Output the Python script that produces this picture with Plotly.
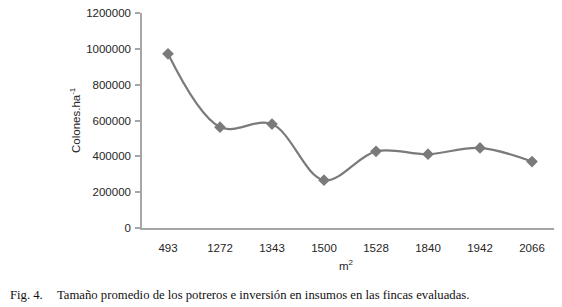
import plotly.graph_objects as go

categories = ["493", "1272", "1343", "1500", "1528", "1840", "1942", "2066"]
values = [972000, 563000, 580000, 267000, 428000, 412000, 447000, 371000]
y_ticks = [0, 200000, 400000, 600000, 800000, 1000000, 1200000]

# page body has an 8px margin; work in reference pixel coords then shift
OFF = 8
W, H = 562 - OFF, 307 - OFF
L, R, T, B = 142 - OFF, 4, 13 - OFF, 79
pw, ph = W - L - R, H - T - B

def px(x):
    return (x - OFF - L) / pw

def py(y):
    return (H - B - (y - OFF)) / ph

line_color = "#7a7a7a"
text_color = "#262626"

fig = go.Figure()
fig.add_trace(go.Scatter(
    x=categories, y=values, mode="lines+markers",
    line=dict(color=line_color, width=2.2, shape="spline", smoothing=1.0),
    marker=dict(symbol="diamond", size=9, color=line_color),
    showlegend=False, hoverinfo="skip",
))

fig.update_layout(
    width=W, height=H,
    margin=dict(l=L, r=R, t=T, b=B, pad=0, autoexpand=False),
    paper_bgcolor="white", plot_bgcolor="white",
    font=dict(family="Liberation Sans, Arial, sans-serif", size=11.5, color=text_color),
    xaxis=dict(
        type="category", range=[-0.5, 7.5], automargin=False,
        showline=True, linecolor="#a6a6a6", linewidth=1.5,
        showgrid=False, zeroline=False, ticks="",
        tickfont=dict(size=11.5, color=text_color),
        ticklabelstandoff=8,
    ),
    yaxis=dict(
        range=[0, 1200000], tickvals=y_ticks, automargin=False,
        ticktext=[str(v) for v in y_ticks],
        showline=True, linecolor="#a6a6a6", linewidth=1.5,
        showgrid=False, zeroline=False,
        ticks="outside", ticklen=5, tickcolor="#a6a6a6", tickwidth=1.5,
        tickfont=dict(size=11.5, color=text_color),
        ticklabelstandoff=2, ticklabeloverflow="allow",
    ),
)

fig.add_annotation(
    text="Colones.ha<sup>-1</sup>", xref="paper", yref="paper",
    x=px(75), y=py(120), textangle=-90, showarrow=False,
    xanchor="center", yanchor="middle",
    font=dict(size=11.5, color=text_color),
)
fig.add_annotation(
    text="m<sup>2</sup>", xref="paper", yref="paper",
    x=px(346), y=py(265), showarrow=False,
    xanchor="center", yanchor="middle",
    font=dict(size=11.5, color=text_color),
)
fig.add_annotation(
    text="Fig. 4.", xref="paper", yref="paper",
    x=px(8), y=py(295), showarrow=False,
    xanchor="left", yanchor="middle",
    font=dict(family="Liberation Serif, Times New Roman, serif", size=12.7, color="#111111"),
)
fig.add_annotation(
    text="Tamaño promedio de los potreros e inversión en insumos en las fincas evaluadas.",
    xref="paper", yref="paper",
    x=px(55), y=py(295), showarrow=False,
    xanchor="left", yanchor="middle",
    font=dict(family="Liberation Serif, Times New Roman, serif", size=12.7, color="#111111"),
)

fig.write_html("out.html")
